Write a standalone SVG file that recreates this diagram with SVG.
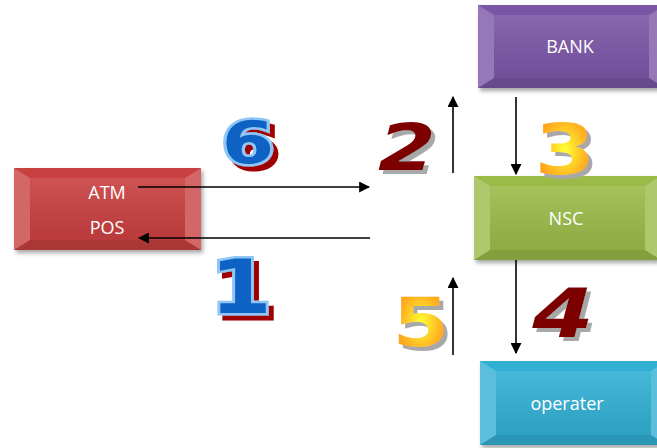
<svg xmlns="http://www.w3.org/2000/svg" width="657" height="448" viewBox="0 0 657 448">
<style>
.lbl{font-family:"Open Sans","Liberation Sans",sans-serif;font-size:18px;fill:#fff;text-anchor:middle}
.num{font-family:"DejaVu Sans","Liberation Sans",sans-serif;font-weight:bold;text-anchor:middle}
.conn{stroke:#000;stroke-width:1.6;fill:none;marker-end:url(#ah)}
.hi{fill:#fff;opacity:0.2}
.lo{fill:#000;opacity:0.15}
</style>
<defs>
<marker id="ah" viewBox="0 0 10 10" refX="9" refY="5" markerWidth="11" markerHeight="11" markerUnits="userSpaceOnUse" orient="auto"><path d="M0,0 L10,5 L0,10 Z" fill="#000"/></marker>
<radialGradient id="orng" cx="0.5" cy="0.5" r="0.6"><stop offset="0" stop-color="#ffff33"/><stop offset="0.6" stop-color="#ffb020"/><stop offset="1" stop-color="#ff8c1a"/></radialGradient>
<filter id="sh" x="-10%" y="-10%" width="130%" height="140%"><feDropShadow dx="2" dy="3" stdDeviation="2" flood-color="#000" flood-opacity="0.35"/></filter>
<filter id="grayShadow" x="-20%" y="-20%" width="150%" height="150%">
<feOffset in="SourceAlpha" dx="4" dy="4" result="o"/>
<feFlood flood-color="#a8a8a8"/><feComposite in2="o" operator="in" result="s"/>
<feMerge><feMergeNode in="s"/><feMergeNode in="SourceGraphic"/></feMerge>
</filter>
<filter id="redShadow" x="-20%" y="-20%" width="150%" height="150%">
<feOffset in="SourceAlpha" dx="5" dy="5" result="o"/>
<feFlood flood-color="#a00000"/><feComposite in2="o" operator="in" result="s"/>
<feMerge><feMergeNode in="s"/><feMergeNode in="SourceGraphic"/></feMerge>
</filter>
<linearGradient id="gloss" x1="0" y1="0" x2="0" y2="1"><stop offset="0" stop-color="#fff" stop-opacity="0.1"/><stop offset="1" stop-color="#000" stop-opacity="0.08"/></linearGradient>
</defs>

<g id="atm">
<rect x="14" y="168" width="187" height="82" fill="#c9403f" filter="url(#sh)"/>
<polygon class="hi" points="14,168 30,178 30,240 14,250"/>
<polygon class="hi" points="201,168 185,178 185,240 201,250"/>
<polygon class="lo" points="14,250 30,240 185,240 201,250"/>
<rect x="30" y="178" width="155" height="62" fill="url(#gloss)"/>
<text class="lbl" x="107" y="199">ATM</text>
<text class="lbl" x="107" y="234">POS</text>
</g>

<g id="bank">
<rect x="478" y="5" width="187" height="83" fill="#7b56a6" filter="url(#sh)"/>
<polygon class="hi" points="478,5 494,15 494,78 478,88"/>
<polygon class="hi" points="665,5 649,15 649,78 665,88"/>
<polygon class="lo" points="478,88 494,78 649,78 665,88"/>
<rect x="494" y="15" width="155" height="63" fill="url(#gloss)"/>
<text class="lbl" x="570" y="53">BANK</text>
</g>

<g id="nsc">
<rect x="474" y="176" width="187" height="84" fill="#9bbb4a" filter="url(#sh)"/>
<polygon class="hi" points="474,176 490,186 490,250 474,260"/>
<polygon class="hi" points="661,176 645,186 645,250 661,260"/>
<polygon class="lo" points="474,260 490,250 645,250 661,260"/>
<rect x="490" y="186" width="155" height="64" fill="url(#gloss)"/>
<text class="lbl" x="566" y="225">NSC</text>
</g>

<g id="operater">
<rect x="480" y="361" width="187" height="84" fill="#33b0d4" filter="url(#sh)"/>
<polygon class="hi" points="480,361 496,371 496,435 480,445"/>
<polygon class="hi" points="667,361 651,371 651,435 667,445"/>
<polygon class="lo" points="480,445 496,435 651,435 667,445"/>
<rect x="496" y="371" width="155" height="64" fill="url(#gloss)"/>
<text class="lbl" x="567" y="410">operater</text>
</g>

<g id="connectors">
<line class="conn" x1="138" y1="187" x2="369" y2="187"/>
<line class="conn" x1="370" y1="238" x2="139" y2="238"/>
<line class="conn" x1="453" y1="173" x2="453" y2="97"/>
<line class="conn" x1="516" y1="97" x2="516" y2="174"/>
<line class="conn" x1="516" y1="260" x2="516" y2="353"/>
<line class="conn" x1="453" y1="355" x2="453" y2="278"/>
</g>

<g id="n6" filter="url(#redShadow)">
<text class="num" transform="translate(248,163) scale(1.3,1)" font-size="58" fill="#0a62c4" stroke="#8fc6f5" stroke-width="5" paint-order="stroke">6</text>
</g>
<g id="n1" filter="url(#redShadow)">
<text class="num" transform="translate(241,313) scale(1.2,1)" font-size="74" fill="#0a62c4" stroke="#8fc6f5" stroke-width="5" paint-order="stroke">1</text>
</g>
<g id="n2" filter="url(#grayShadow)">
<text class="num" transform="translate(407,170) scale(1.3,1)" font-size="64" font-style="italic" fill="#7d0000">2</text>
</g>
<g id="n3" filter="url(#grayShadow)">
<text class="num" transform="translate(565,174) scale(1.25,1)" font-size="70" fill="url(#orng)">3</text>
</g>
<g id="n5" filter="url(#grayShadow)">
<text class="num" transform="translate(421,346) scale(1.2,1)" font-size="68" fill="url(#orng)">5</text>
</g>
<g id="n4" filter="url(#grayShadow)">
<text class="num" transform="translate(563,337) scale(1.3,1)" font-size="68" font-style="italic" fill="#7d0000">4</text>
</g>
</svg>
